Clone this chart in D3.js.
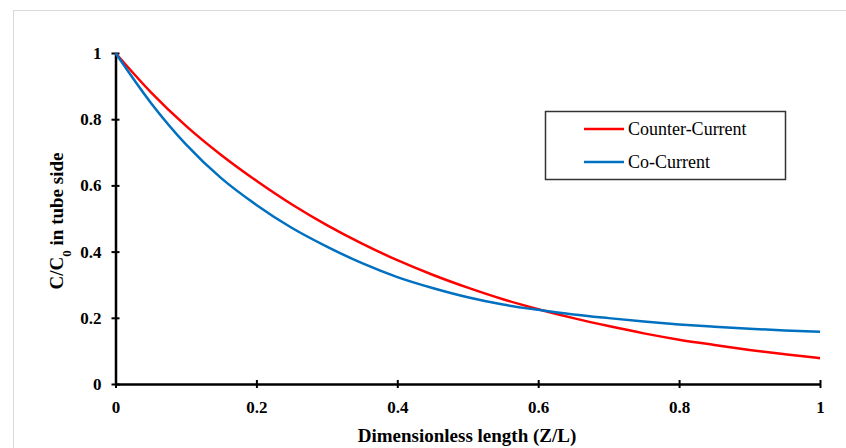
<!DOCTYPE html>
<html>
<head>
<meta charset="utf-8">
<script src="https://cdn.jsdelivr.net/npm/d3@7"></script>
<style>
  body { margin: 0; background: #fff; }
  svg { display: block; }
</style>
</head>
<body>
<div id="chart"></div>
<script>
// dimensionless length Z/L
const zl = [0, 0.05, 0.1, 0.15, 0.2, 0.25, 0.3, 0.35, 0.4, 0.45, 0.5,
            0.55, 0.6, 0.65, 0.7, 0.75, 0.8, 0.85, 0.9, 0.95, 1];
// C/C0 in tube side
const counterCurrent = [1.000, 0.882, 0.780, 0.692, 0.614, 0.543, 0.480, 0.424, 0.374, 0.330, 0.291,
                        0.256, 0.226, 0.199, 0.175, 0.153, 0.134, 0.118, 0.103, 0.090, 0.078];
const coCurrent = [1.000, 0.850, 0.724, 0.622, 0.541, 0.472, 0.415, 0.365, 0.323, 0.290, 0.262,
                   0.240, 0.224, 0.210, 0.199, 0.189, 0.180, 0.173, 0.167, 0.162, 0.158];
const seriesNames = ["Counter-Current", "Co-Current"];
const xTicks = [0, 0.2, 0.4, 0.6, 0.8, 1];
const yTicks = [0, 0.2, 0.4, 0.6, 0.8, 1];

const W = 846, H = 448;
const margin = {top: 53, right: 26, bottom: 64, left: 115.5};
const width = 820 - margin.left, height = 384 - margin.top;
const serif = "'Liberation Serif', 'Times New Roman', serif";

const svg = d3.select("#chart").append("svg")
    .attr("width", W)
    .attr("height", H);

// outer light frame
svg.append("rect")
    .attr("x", 13.5).attr("y", 10.5)
    .attr("width", 900).attr("height", 500)
    .attr("fill", "none")
    .attr("stroke", "#d9d9d9")
    .attr("stroke-width", 1);

const g = svg.append("g")
    .attr("transform", "translate(" + margin.left + "," + margin.top + ")");

const x = d3.scaleLinear().domain([0, 1]).range([0, width]);
const y = d3.scaleLinear().domain([0, 1]).range([height, 0]);

const fmt = d => d === 0 ? "0" : d === 1 ? "1" : d3.format(".1f")(d);

// axes
const xAxis = g.append("g")
    .attr("transform", "translate(0," + height + ")")
    .call(d3.axisBottom(x).tickValues(xTicks).tickFormat(fmt).tickSize(4).tickPadding(13).tickSizeOuter(0));
const yAxis = g.append("g")
    .call(d3.axisLeft(y).tickValues(yTicks).tickFormat(fmt).tickSize(4).tickPadding(10).tickSizeOuter(0));

xAxis.selectAll(".tick line").attr("y1", -4).attr("y2", 4);
yAxis.selectAll(".tick line").attr("x1", -4).attr("x2", 4);

[xAxis, yAxis].forEach(function(a) {
    a.select("path.domain").attr("stroke", "#000").attr("stroke-width", 2.5);
    a.selectAll(".tick line").attr("stroke", "#000").attr("stroke-width", 2);
    a.selectAll(".tick text")
        .attr("fill", "#000")
        .style("font-family", serif)
        .style("font-size", "17px")
        .style("font-weight", "bold");
});

// lines
const line = d3.line()
    .x((d, i) => x(zl[i]))
    .y(d => y(d))
    .curve(d3.curveMonotoneX);

const colors = ["#ff0000", "#0070c0"];
[counterCurrent, coCurrent].forEach(function(vals, k) {
    g.append("path")
        .datum(vals)
        .attr("fill", "none")
        .attr("stroke", colors[k])
        .attr("stroke-width", 2.5)
        .attr("d", line);
});

// axis titles
svg.append("text")
    .attr("x", 467)
    .attr("y", 442)
    .attr("text-anchor", "middle")
    .style("font-family", serif)
    .style("font-size", "19px")
    .style("font-weight", "bold")
    .text("Dimensionless length (Z/L)");

const yt = svg.append("text")
    .attr("transform", "translate(63,221) rotate(-90)")
    .attr("text-anchor", "middle")
    .style("font-family", serif)
    .style("font-size", "19px")
    .style("font-weight", "bold");
yt.append("tspan").text("C/C");
yt.append("tspan").attr("baseline-shift", "sub").style("font-size", "13px").text("0");
yt.append("tspan").text(" in tube side");

// legend
const leg = svg.append("g");
leg.append("rect")
    .attr("x", 545.5).attr("y", 111.5)
    .attr("width", 240).attr("height", 68)
    .attr("fill", "#fff")
    .attr("stroke", "#333")
    .attr("stroke-width", 1.5);
seriesNames.forEach(function(name, k) {
    const ly = 129 + k * 33;
    leg.append("line")
        .attr("x1", 584).attr("x2", 624)
        .attr("y1", ly).attr("y2", ly)
        .attr("stroke", colors[k])
        .attr("stroke-width", 2.5);
    leg.append("text")
        .attr("x", 628).attr("y", ly + 6)
        .style("font-family", serif)
        .style("font-size", "18px")
        .attr("fill", "#000")
        .text(name);
});
</script>
</body>
</html>
